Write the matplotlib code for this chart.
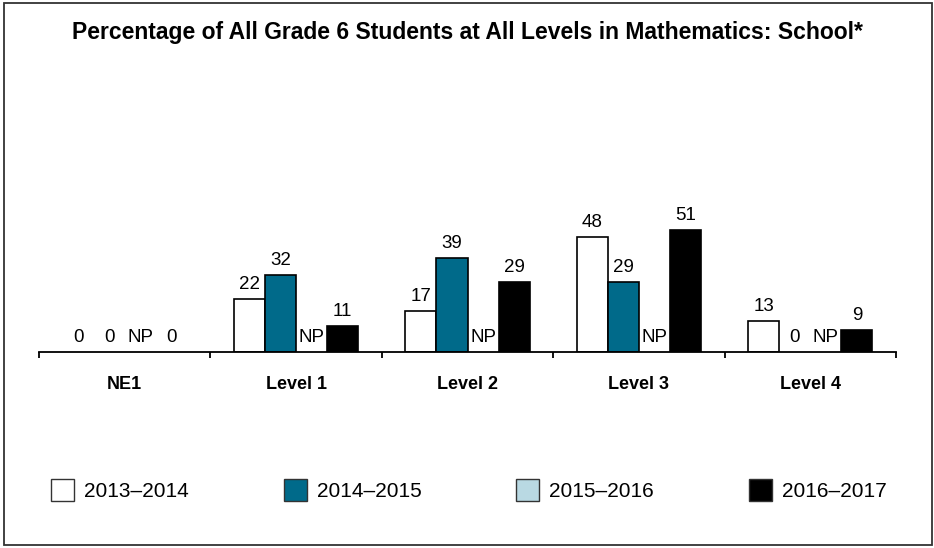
import matplotlib
matplotlib.use("Agg")
import matplotlib.pyplot as plt
from matplotlib.patches import Rectangle, Patch

plt.rcParams['font.family'] = ['Liberation Sans', 'DejaVu Sans']

categories = ["NE1", "Level 1", "Level 2", "Level 3", "Level 4"]
years = ["2013\u20132014", "2014\u20132015", "2015\u20132016", "2016\u20132017"]
vals_2013 = [0, 22, 17, 48, 13]
vals_2014 = [0, 32, 39, 29, 0]
vals_2015 = [None, None, None, None, None]   # not published
vals_2016 = [0, 11, 29, 51, 9]
series = [vals_2013, vals_2014, vals_2015, vals_2016]
colors = ["#ffffff", "#006a8a", "#b9d9e3", "#000000"]
title = "Percentage of All Grade 6 Students at All Levels in Mathematics: School*"

W, H = 934, 548
fig = plt.figure(figsize=(W / 100, H / 100), dpi=100)

# outer frame
fig.patches.append(Rectangle((4 / W, 3 / H), 928 / W, 542 / H, transform=fig.transFigure,
                             fill=False, edgecolor="#333333", linewidth=1.3))

fig.text(0.5, 1 - 33 / H, title, ha="center", va="center", fontsize=16.5, fontweight="bold")

ax_left, ax_right, base_y = 39, 896, 352
ymax = 60
px_per_unit = 2.4
ax = fig.add_axes([ax_left / W, (H - base_y) / H, (ax_right - ax_left) / W, ymax * px_per_unit / H])
ax.set_xlim(0, len(categories))
ax.set_ylim(0, ymax)
for s in ["top", "right", "left"]:
    ax.spines[s].set_visible(False)
ax.spines["bottom"].set_linewidth(1.3)
ax.set_yticks([])

bw = 0.181
start = (1 - 4 * bw) / 2
for k, vals in enumerate(series):
    for i, v in enumerate(vals):
        xc = i + start + bw * (k + 0.5)
        if v is None:
            ax.annotate("NP", (xc, 0), xytext=(0, 6), textcoords="offset pixels",
                        ha="center", va="bottom", fontsize=13.5)
            continue
        if v > 0:
            ax.bar(xc, v, width=bw, color=colors[k], edgecolor="black", linewidth=1.2)
        ax.annotate(str(v), (xc, v), xytext=(0, 6), textcoords="offset pixels",
                    ha="center", va="bottom", fontsize=13.5)

ax.set_xticks(range(len(categories) + 1))
ax.set_xticklabels([])
ax.tick_params(axis="x", which="major", direction="out", length=4, width=1.3)
ax.set_xticks([i + 0.5 for i in range(len(categories))], minor=True)
ax.set_xticklabels(categories, minor=True, fontsize=13, fontweight="bold")
ax.tick_params(axis="x", which="minor", length=0, pad=17)

handles = [Patch(facecolor=c, edgecolor="#333333", linewidth=1.0) for c in colors]
fig.legend(handles, years, ncol=4, loc="center", bbox_to_anchor=(469 / W, 1 - 490 / H),
           frameon=False, fontsize=15, handlelength=1.1, handleheight=1.2,
           handletextpad=0.48, columnspacing=4.55)

fig.savefig("out.png", dpi=100)
